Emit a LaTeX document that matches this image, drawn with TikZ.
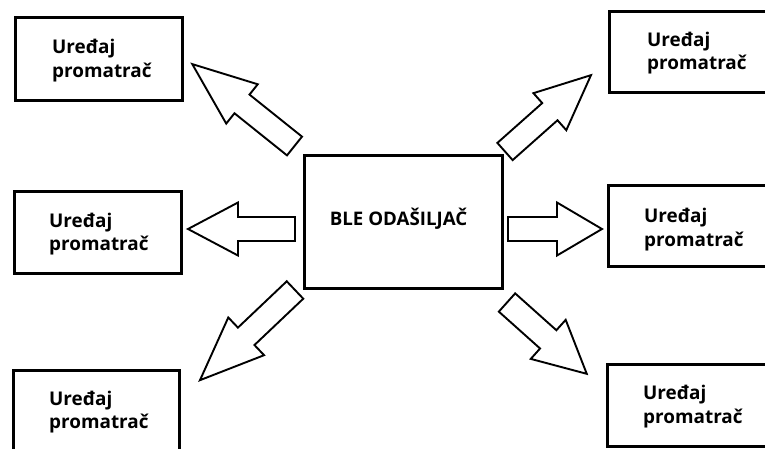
\documentclass[tikz,border=0pt]{standalone}
\usepackage{fontspec}
\setmainfont{Open Sans}
\tikzset{
  box/.style={draw=black, line width=2.6pt, fill=white, rectangle, inner sep=0pt, anchor=north west},
  lbl/.style={font=\fontsize{18.9}{23.5}\selectfont\bfseries, align=left, anchor=west, inner sep=0pt, text=black},
  clbl/.style={font=\fontsize{18.7}{23.5}\selectfont\bfseries, anchor=center, inner sep=0pt, text=black},
  arr/.style={draw=black, line width=1.9pt, fill=white, line join=miter}
}
% tail x, tail y, angle, length, shaft width, head width, head length
\newcommand\blockarr[7]{\draw[arr, shift={(#1,#2)}, rotate=#3]
  (0,{#5/2}) -- ({#4-#7},{#5/2}) -- ({#4-#7},{#6/2}) -- (#4,0) --
  ({#4-#7},{-#6/2}) -- ({#4-#7},{-#5/2}) -- (0,{-#5/2}) -- cycle;}
\begin{document}
\begin{tikzpicture}[x=1pt, y=-1pt]
\useasboundingbox (0,0) rectangle (765,448);
\clip (0,0) rectangle (765,448);
\fill[white] (0,0) rectangle (765,448);
% boxes
\node[box, minimum width=167pt, minimum height=83pt] (tl) at (14,16) {};
\node[box, minimum width=175pt, minimum height=81pt] (tr) at (608,10) {};
\node[box, minimum width=167pt, minimum height=82pt] (ml) at (13,190) {};
\node[box, minimum width=175pt, minimum height=81pt] (mr) at (607,184) {};
\node[box, minimum width=166pt, minimum height=90pt] (bl) at (12,369) {};
\node[box, minimum width=175pt, minimum height=82pt] (br) at (606,363) {};
\node[box, minimum width=198pt, minimum height=133pt] (c) at (303,154) {};
% labels
\node[lbl] (tlt) at (52,60.5) {Uređaj\\promatrač};
\node[lbl] (trt) at (647,53) {Uređaj\\promatrač};
\node[lbl] (mlt) at (49,234) {Uređaj\\promatrač};
\node[lbl] (mrt) at (644,229.5) {Uređaj\\promatrač};
\node[lbl] (blt) at (49,412) {Uređaj\\promatrač};
\node[lbl] (brt) at (643,406.5) {Uređaj\\promatrač};
\node[clbl] (ct) at (398.5,219) {BLE ODAŠILJAČ};
% block arrows
\blockarr{295}{229}{180}{107}{24}{53}{50}
\blockarr{508}{229}{0}{94}{24}{53}{45}
\blockarr{294.5}{146}{141.3}{131}{24}{50.4}{63.7}
\blockarr{505}{151.5}{41.6}{115}{23}{49.5}{55}
\blockarr{295}{290}{-136.5}{131}{24}{52}{63.7}
\blockarr{507}{302.5}{-41.8}{107}{24.5}{52.4}{51.7}
\end{tikzpicture}
\end{document}
